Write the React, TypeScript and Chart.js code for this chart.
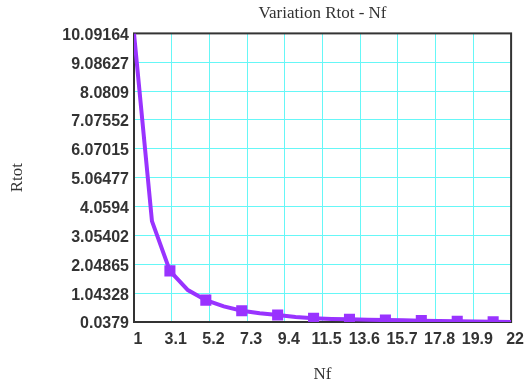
import React, { useEffect, useRef } from "react";
import { Chart, registerables } from "chart.js";

Chart.register(...registerables);

const nfValues = [1, 2, 3, 4, 5, 6, 7, 8, 9, 10, 11, 12, 13, 14, 15, 16, 17, 18, 19, 20, 21, 22];
const rtotValues = [
  10.09164, 3.55, 1.82, 1.15, 0.8, 0.58, 0.43, 0.34, 0.28, 0.21, 0.17,
  0.145, 0.13, 0.115, 0.105, 0.095, 0.085, 0.075, 0.065, 0.055, 0.047, 0.0379,
];
const xTickLabels = ["1", "3.1", "5.2", "7.3", "9.4", "11.5", "13.6", "15.7", "17.8", "19.9", "22"];
const xTickValues = [1, 3.1, 5.2, 7.3, 9.4, 11.5, 13.6, 15.7, 17.8, 19.9, 22];
const yTickLabels = [
  "0.0379", "1.04328", "2.04865", "3.05402", "4.0594", "5.06477",
  "6.07015", "7.07552", "8.0809", "9.08627", "10.09164",
];
const yTickValues = [
  0.0379, 1.04328, 2.04865, 3.05402, 4.0594, 5.06477,
  6.07015, 7.07552, 8.0809, 9.08627, 10.09164,
];

const titleText = "Variation Rtot - Nf";
const xTitle = "Nf";
const yTitle = "Rtot";

const LINE_COLOR = "#9933ff";
const GRID_COLOR = "#66f7f7";
const TEXT_COLOR = "#333333";

const boxPlugin = {
  id: "plotBox",
  beforeDatasetsDraw(chart: any) {
    const { ctx, chartArea } = chart;
    ctx.save();
    ctx.strokeStyle = "#333333";
    ctx.lineWidth = 2;
    ctx.strokeRect(chartArea.left, chartArea.top, chartArea.right - chartArea.left, chartArea.bottom - chartArea.top);
    ctx.restore();
  },
};

export default function App() {
  const canvasRef = useRef<HTMLCanvasElement | null>(null);

  useEffect(() => {
    if (!canvasRef.current) return;
    const data = nfValues.map((x, i) => ({ x, y: rtotValues[i] }));
    const chart = new Chart(canvasRef.current, {
      type: "line",
      data: {
        datasets: [
          {
            data,
            borderColor: LINE_COLOR,
            backgroundColor: LINE_COLOR,
            borderWidth: 4,
            pointStyle: "rect",
            pointRadius: (ctx: any) => (ctx.dataIndex % 2 === 0 && ctx.dataIndex > 0 && ctx.dataIndex < nfValues.length - 1 ? 5 : 0),
            pointHoverRadius: 0,
            tension: 0,
            fill: false,
          },
        ],
      },
      options: {
        animation: false,
        responsive: true,
        maintainAspectRatio: false,
        events: [],
        layout: { padding: { left: 0, right: 14, top: 0, bottom: 0 } },
        plugins: {
          legend: { display: false },
          tooltip: { enabled: false },
          title: {
            display: true,
            text: titleText,
            fullSize: false,
            color: TEXT_COLOR,
            font: { family: "'Liberation Serif', serif", size: 17, weight: "normal" },
            padding: { top: 3, bottom: 10 },
          },
        },
        scales: {
          x: {
            type: "linear",
            min: 1,
            max: 22,
            afterBuildTicks: (scale: any) => {
              scale.ticks = xTickValues.map((v) => ({ value: v }));
            },
            afterFit: (scale: any) => {
              scale.height = 65;
            },
            grid: { color: GRID_COLOR, lineWidth: 1, drawTicks: false },
            border: { display: false },
            ticks: {
              color: TEXT_COLOR,
              font: { family: "'Liberation Sans', Arial, sans-serif", size: 16, weight: "bold" },
              padding: 8,
              labelOffset: 4,
              maxRotation: 0,
              autoSkip: false,
              callback: (_v: any, i: number) => xTickLabels[i],
            },
            title: {
              display: true,
              text: xTitle,
              color: TEXT_COLOR,
              font: { family: "'Liberation Serif', serif", size: 17, weight: "normal" },
              padding: { top: 0, bottom: 2 },
            },
          },
          y: {
            type: "linear",
            min: 0.0379,
            max: 10.09164,
            afterBuildTicks: (scale: any) => {
              scale.ticks = yTickValues.map((v) => ({ value: v }));
            },
            afterFit: (scale: any) => {
              scale.width = 134;
            },
            grid: { color: GRID_COLOR, lineWidth: 1, drawTicks: false },
            border: { display: false },
            ticks: {
              color: TEXT_COLOR,
              font: { family: "'Liberation Sans', Arial, sans-serif", size: 16, weight: "bold" },
              padding: 5,
              labelOffset: 2,
              autoSkip: false,
              callback: (_v: any, i: number) => yTickLabels[i],
            },
            title: {
              display: true,
              text: yTitle,
              color: TEXT_COLOR,
              font: { family: "'Liberation Serif', serif", size: 17, weight: "normal" },
              padding: { top: 7, bottom: 0 },
            },
          },
        },
      },
      plugins: [boxPlugin],
    });
    return () => chart.destroy();
  }, []);

  return (
    <div style={{ position: "fixed", left: 0, top: 0, width: 528, height: 387, background: "#ffffff" }}>
      <canvas ref={canvasRef} />
    </div>
  );
}
